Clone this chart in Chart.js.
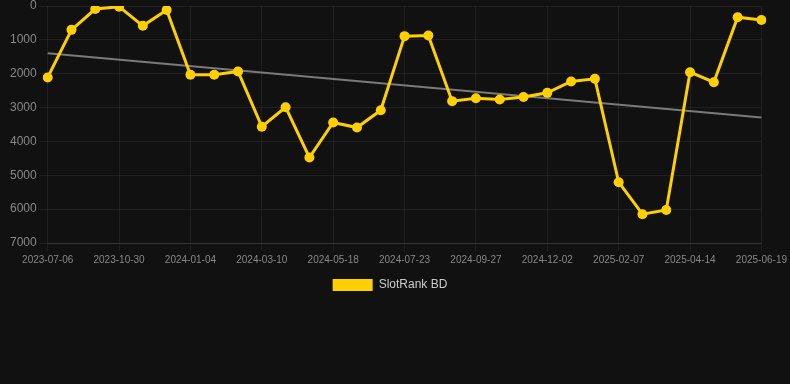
<!DOCTYPE html>
<html>
<head>
<meta charset="utf-8">
<script src="https://cdn.jsdelivr.net/npm/chart.js@4/dist/chart.umd.min.js"></script>
<style>
  html, body { margin: 0; padding: 0; background: #111111; }
  #wrap { width: 790px; height: 301px; position: relative; }
</style>
</head>
<body>
<div id="wrap"><canvas id="c"></canvas></div>
<script>
const categories = [
  "2023-07-06","2023-08-14","2023-09-22","2023-10-30","2023-11-21","2023-12-13",
  "2024-01-04","2024-01-26","2024-02-17","2024-03-10","2024-04-02","2024-04-25",
  "2024-05-18","2024-06-08","2024-07-01","2024-07-23","2024-08-14","2024-09-05",
  "2024-09-27","2024-10-19","2024-11-10","2024-12-02","2024-12-24","2025-01-16",
  "2025-02-07","2025-03-01","2025-03-23","2025-04-14","2025-05-06","2025-05-28",
  "2025-06-19"
];
const slotRankValues = [
  2110, 705, 90, 20, 585, 118,
  2030, 2030, 1935, 3565, 2990, 4475,
  3440, 3590, 3080, 890, 870, 2810,
  2725, 2760, 2690, 2565, 2230, 2150,
  5205, 6150, 6025, 1955, 2250, 330,
  415
];
const trendEnds = [1395, 3295];
const yTicks = [0, 1000, 2000, 3000, 4000, 5000, 6000, 7000];

const trendData = categories.map((_, i) => i === 0 ? trendEnds[0] : (i === categories.length - 1 ? trendEnds[1] : null));

new Chart(document.getElementById('c'), {
  type: 'line',
  data: {
    labels: categories,
    datasets: [
      {
        label: 'SlotRank BD',
        data: slotRankValues,
        borderColor: '#FFD000',
        backgroundColor: '#FFD000',
        borderWidth: 3,
        pointRadius: 5,
        pointHoverRadius: 5,
        pointBackgroundColor: '#FFD000',
        pointBorderColor: '#FFD000',
        pointBorderWidth: 0,
        tension: 0,
        order: 1
      },
      {
        label: 'trend',
        data: trendData,
        borderColor: '#7a7a7a',
        backgroundColor: '#7a7a7a',
        borderWidth: 2,
        pointRadius: 0,
        spanGaps: true,
        order: 2
      }
    ]
  },
  options: {
    responsive: true,
    maintainAspectRatio: false,
    animation: false,
    layout: { padding: { left: 7, right: 17, top: 0 } },
    plugins: {
      tooltip: { enabled: false },
      legend: {
        position: 'bottom',
        labels: {
          color: '#cccccc',
          boxWidth: 40,
          boxHeight: 12,
          font: { family: 'Liberation Sans, Arial, sans-serif', size: 12 },
          generateLabels: (chart) => Chart.defaults.plugins.legend.labels.generateLabels(chart)
            .filter(item => item.text !== 'trend')
            .map(item => Object.assign(item, { lineWidth: 0, strokeStyle: 'rgba(0,0,0,0)' }))
        }
      }
    },
    scales: {
      x: {
        grid: { color: 'rgba(255,255,255,0.06)', drawTicks: true },
        border: { color: 'rgba(255,255,255,0.1)' },
        ticks: {
          color: '#888888',
          font: { family: 'Liberation Sans, Arial, sans-serif', size: 10 },
          autoSkip: true,
          maxTicksLimit: 11,
          maxRotation: 0,
          minRotation: 0
        }
      },
      y: {
        reverse: true,
        min: yTicks[0],
        max: yTicks[yTicks.length - 1],
        afterBuildTicks: (axis) => { axis.ticks = yTicks.map(v => ({ value: v })); },
        afterFit: (axis) => { axis.paddingTop = 6; },
        grid: { color: 'rgba(255,255,255,0.06)' },
        border: { display: false },
        ticks: {
          color: '#888888',
          font: { family: 'Liberation Sans, Arial, sans-serif', size: 12 },
          callback: (v) => String(v)
        }
      }
    }
  }
});
</script>
</body>
</html>
